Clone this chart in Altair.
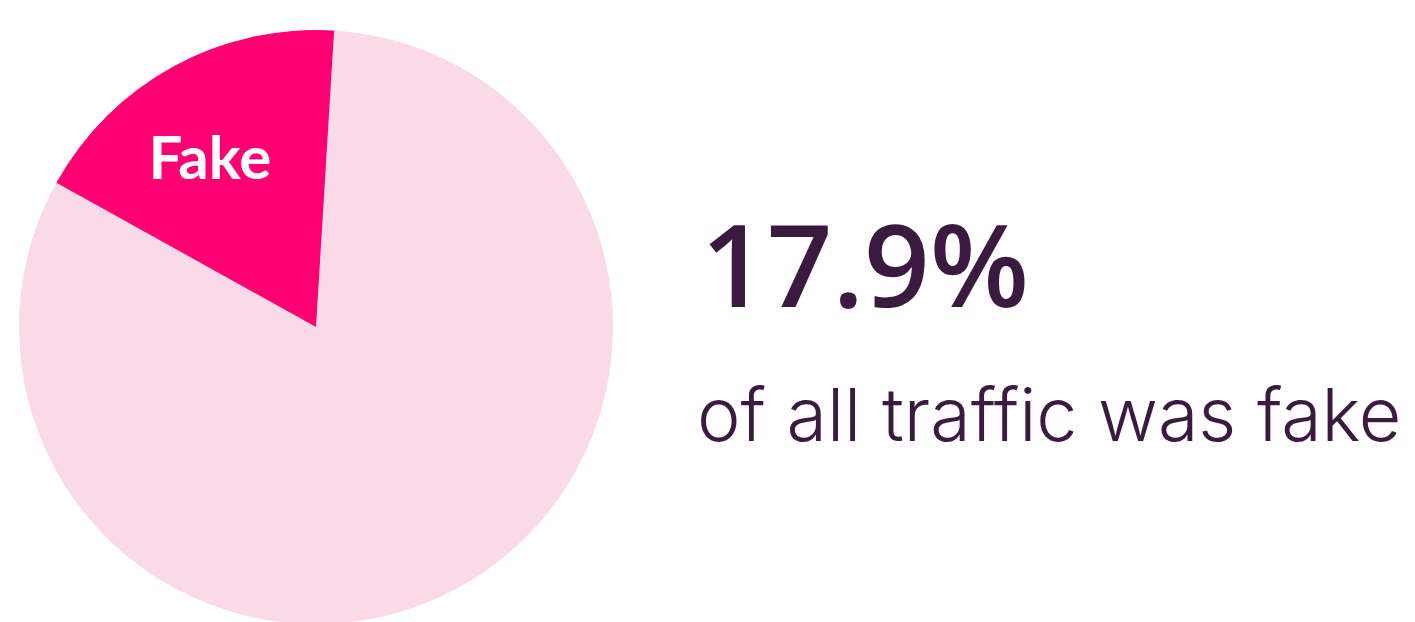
import altair as alt
import pandas as pd
import math

categories = ["Real", "Fake"]
shares = [82.1, 17.9]
labels = ["", "Fake"]
headline = ["17.9%"]
subline = ["of all traffic was fake"]

df = pd.DataFrame({"category": categories, "share": shares, "label": labels, "order": [0, 1]})

start = math.radians(3.5)
theta_scale = alt.Scale(range=[start, start + 2 * math.pi])

cx, cy, r = 308, 319, 297

base = alt.Chart(df).encode(
    theta=alt.Theta("share:Q", stack=True, scale=theta_scale),
    order=alt.Order("order:Q"),
)

pie = base.mark_arc(radius=r, stroke=None).encode(
    x=alt.value(cx),
    y=alt.value(cy),
    color=alt.Color("category:N",
                    scale=alt.Scale(domain=["Real", "Fake"], range=["#FADAE6", "#FF0073"]),
                    legend=None),
)

slice_label = base.mark_text(radius=198, font="Lato", fontWeight="bold", fontSize=60,
                             color="white", align="center", baseline="middle",
                             dx=-11, dy=8).encode(
    x=alt.value(cx),
    y=alt.value(cy),
    text="label:N",
)

big = alt.Chart(pd.DataFrame({"t": headline})).mark_text(
    font="Open Sans", fontWeight=600, fontSize=115, color="#3B1A40",
    align="left", baseline="alphabetic"
).encode(x=alt.value(693), y=alt.value(299), text="t:N")

small = alt.Chart(pd.DataFrame({"t": subline})).mark_text(
    font="Inter", fontWeight=300, fontSize=73.5, color="#3B1A40",
    align="left", baseline="alphabetic"
).encode(x=alt.value(689), y=alt.value(433), text="t:N")

chart = alt.layer(pie, slice_label, big, small).properties(
    width=1399, height=614,
    autosize=alt.AutoSizeParams(type="fit", contains="padding"),
    padding=0,
).configure_view(stroke=None)

chart.save("out.html", embed_options={"renderer": "svg", "actions": False})
